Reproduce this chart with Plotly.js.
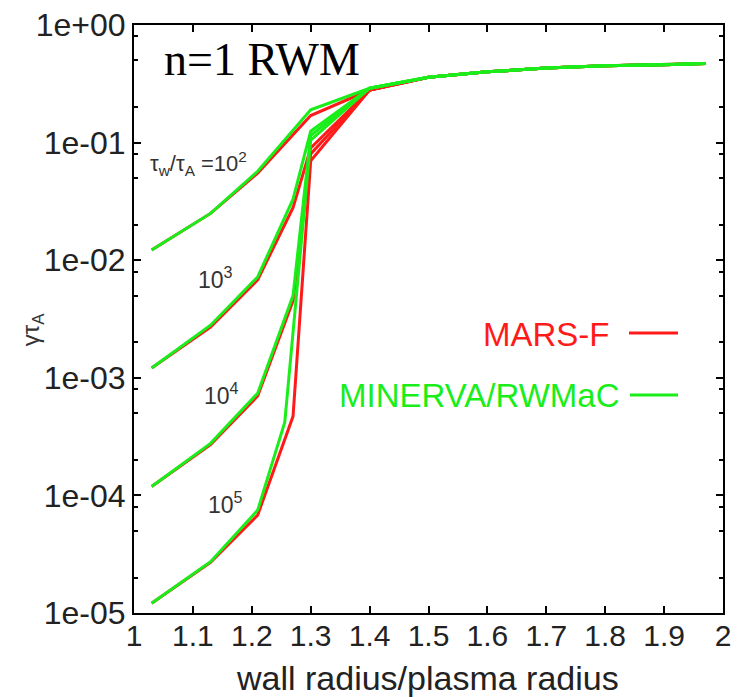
<!DOCTYPE html>
<html>
<head>
<meta charset="utf-8">
<script src="https://cdn.plot.ly/plotly-3.0.1.min.js"></script>
<style>html,body{margin:0;padding:0;background:#fff}#chart{width:738px;height:697px}</style>
</head>
<body>
<div id="chart"></div>
<script>
// wall radius / plasma radius
const x_tw1e2 = [1.03, 1.13, 1.21, 1.30, 1.40, 1.50, 1.60, 1.70, 1.80, 1.90, 1.97];
const x_tw1e3 = [1.03, 1.13, 1.21, 1.27, 1.30, 1.40, 1.50, 1.60, 1.70, 1.80, 1.90, 1.97];
const x_tw1e4 = [1.03, 1.13, 1.21, 1.27, 1.30, 1.40, 1.50, 1.60, 1.70, 1.80, 1.90, 1.97];
const x_tw1e5_mars = [1.03, 1.13, 1.21, 1.27, 1.30, 1.40, 1.50, 1.60, 1.70, 1.80, 1.90, 1.97];
const x_tw1e5_minerva = [1.03, 1.13, 1.21, 1.256, 1.30, 1.40, 1.50, 1.60, 1.70, 1.80, 1.90, 1.97];

// growth rate gamma*tau_A, MARS-F (red)
const mars_1e2 = [0.0122, 0.025, 0.055, 0.17, 0.28, 0.36, 0.40, 0.43, 0.45, 0.46, 0.47];
const mars_1e3 = [0.00121, 0.0027, 0.0068, 0.028, 0.09, 0.28, 0.36, 0.40, 0.43, 0.45, 0.46, 0.47];
const mars_1e4 = [0.000119, 0.00027, 0.0007, 0.0045, 0.08, 0.28, 0.36, 0.40, 0.43, 0.45, 0.46, 0.47];
const mars_1e5 = [0.0000121, 0.000027, 0.000068, 0.00047, 0.07, 0.28, 0.36, 0.40, 0.43, 0.45, 0.46, 0.47];

// growth rate gamma*tau_A, MINERVA/RWMaC (green)
const minerva_1e2 = [0.0122, 0.025, 0.057, 0.19, 0.29, 0.36, 0.40, 0.43, 0.45, 0.46, 0.47];
const minerva_1e3 = [0.00121, 0.0028, 0.0072, 0.033, 0.125, 0.29, 0.36, 0.40, 0.43, 0.45, 0.46, 0.47];
const minerva_1e4 = [0.000119, 0.000277, 0.00074, 0.005, 0.115, 0.29, 0.36, 0.40, 0.43, 0.45, 0.46, 0.47];
const minerva_1e5 = [0.0000121, 0.0000273, 0.000075, 0.00042, 0.105, 0.29, 0.36, 0.40, 0.43, 0.45, 0.46, 0.47];

const yTickVals = [1e-5, 1e-4, 1e-3, 1e-2, 1e-1, 1];
const yTickText = ['1e-05', '1e-04', '1e-03', '1e-02', '1e-01', '1e+00'];
const yMinorMultipliers = [2, 5, 8];
const yMinorVals = [];
yTickVals.slice(0, 5).forEach(d => yMinorMultipliers.forEach(m => yMinorVals.push(d * m)));

const RED = '#ff1a1a';
const GREEN = '#1aee1a';

function tr(x, y, color) {
  return {x: x, y: y, type: 'scatter', mode: 'lines',
    line: {color: color, width: 3}, showlegend: false, hoverinfo: 'skip'};
}

const data = [
  tr(x_tw1e2, mars_1e2, RED),
  tr(x_tw1e3, mars_1e3, RED),
  tr(x_tw1e4, mars_1e4, RED),
  tr(x_tw1e5_mars, mars_1e5, RED),
  tr(x_tw1e2, minerva_1e2, GREEN),
  tr(x_tw1e3, minerva_1e3, GREEN),
  tr(x_tw1e4, minerva_1e4, GREEN),
  tr(x_tw1e5_minerva, minerva_1e5, GREEN)
];

const sans = 'Liberation Sans, Arial, sans-serif';
const labelGray = '#333333';

function ann(x, y, text, font, extra) {
  return Object.assign({xref: 'paper', yref: 'paper', x: x, y: y, text: text, showarrow: false,
    xanchor: 'center', yanchor: 'middle', font: font}, extra || {});
}

const layout = {
  width: 738, height: 697,
  margin: {l: 134, r: 15, t: 25, b: 84},
  paper_bgcolor: 'white', plot_bgcolor: 'white',
  xaxis: {
    range: [1, 2], tick0: 1, dtick: 0.1,
    ticks: 'inside', ticklen: 7, tickwidth: 2, tickcolor: 'black',
    showline: true, linecolor: 'black', linewidth: 2, mirror: 'ticks',
    showgrid: false, zeroline: false, ticklabelstandoff: -5,
    tickfont: {family: sans, size: 30, color: '#222'}
  },
  yaxis: {
    type: 'log', range: [-5, 0], tickmode: 'array', tickvals: yTickVals, ticktext: yTickText,
    ticks: 'inside', ticklen: 7, tickwidth: 2, tickcolor: 'black',
    showline: true, linecolor: 'black', linewidth: 2, mirror: 'ticks',
    showgrid: false, zeroline: false,
    tickfont: {family: sans, size: 32, color: '#222'},
    minor: {tickmode: 'array', tickvals: yMinorVals, ticks: 'inside', ticklen: 4, tickwidth: 1.5, tickcolor: 'black', showgrid: false}
  },
  annotations: [
    ann(0.217, 0.9405, 'n=1 RWM', {family: 'Liberation Serif, Times New Roman, serif', size: 46, color: '#000'}),
    ann(-0.173, 0.481, 'γτ<sub>A</sub>', {family: sans, size: 24, color: labelGray}, {textangle: -90}),
    ann(0.110, 0.765, 'τ<sub>w</sub>/τ<sub>A</sub> =10<sup>2</sup>', {family: sans, size: 22, color: labelGray}),
    ann(0.139, 0.570, '10<sup>3</sup>', {family: sans, size: 23, color: labelGray}),
    ann(0.149, 0.372, '10<sup>4</sup>', {family: sans, size: 23, color: labelGray}),
    ann(0.155, 0.187, '10<sup>5</sup>', {family: sans, size: 23, color: labelGray}),
    ann(0.4975, -0.1105, 'wall radius/plasma radius', {family: sans, size: 34, color: '#222'}),
    ann(0.8115, 0.4728, 'MARS-F', {family: sans, size: 33, color: RED}, {xanchor: 'right'}),
    ann(0.8285, 0.3707, 'MINERVA/RWMaC', {family: sans, size: 33, color: GREEN}, {xanchor: 'right'})
  ],
  shapes: [
    {type: 'line', xref: 'paper', yref: 'paper', x0: 0.8404, x1: 0.9236, y0: 0.4762, y1: 0.4762, line: {color: RED, width: 3}},
    {type: 'line', xref: 'paper', yref: 'paper', x0: 0.8421, x1: 0.9236, y0: 0.3707, y1: 0.3707, line: {color: GREEN, width: 3}}
  ]
};

Plotly.newPlot('chart', data, layout, {displayModeBar: false});
</script>
</body>
</html>
